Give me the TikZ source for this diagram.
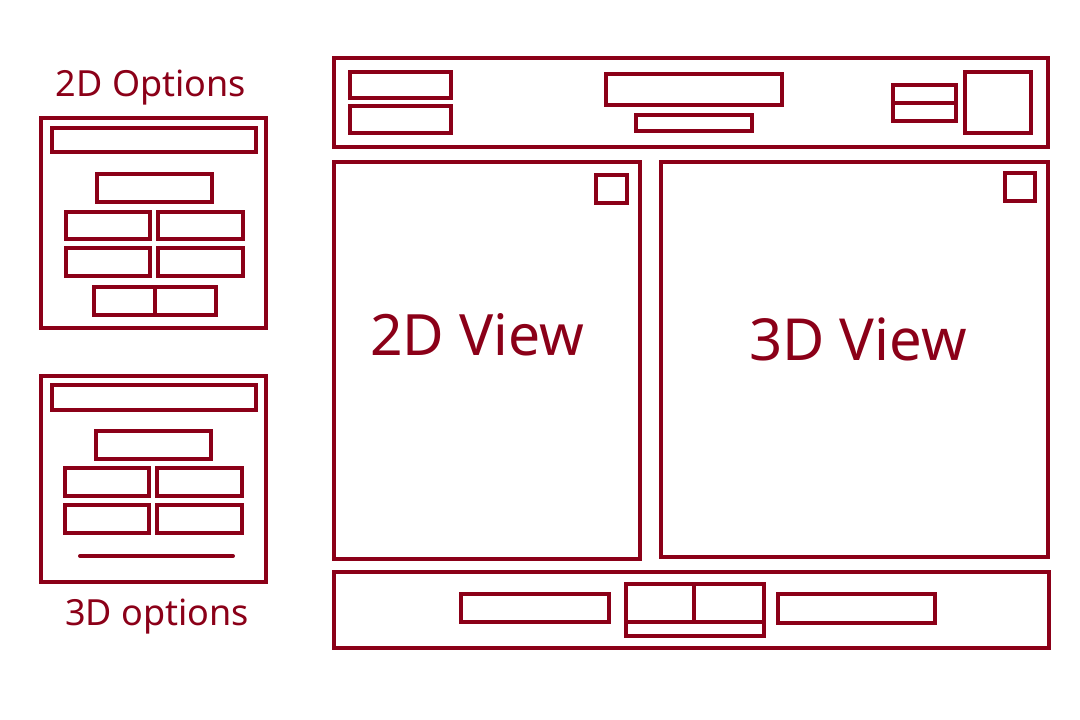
\documentclass[tikz,border=0pt]{standalone}
\usepackage{fontspec}
\setmainfont{Noto Sans}
\definecolor{wine}{RGB}{139,0,24}
\tikzset{
  frame/.style={draw=wine, line width=4pt},
  rule/.style={draw=wine, line width=4pt, line cap=round},
  caption/.style={text=wine, inner sep=0pt, anchor=base},
}
\begin{document}
\begin{tikzpicture}[x=1pt, y=-1pt]
\useasboundingbox (0,0) rectangle (1080,720);

% ---- 2D options panel ----
\node[caption, font=\fontsize{36}{40}\selectfont] (opt2title) at (151,96) {2D Options};
\draw[frame] (41,118) rectangle (266,328);
\draw[frame] (52,128) rectangle (256,152);
\draw[frame] (97,174) rectangle (212,202);
\draw[frame] (66,212) rectangle (150,239);
\draw[frame] (158,212) rectangle (243,239);
\draw[frame] (66,248) rectangle (150,276);
\draw[frame] (158,248) rectangle (243,276);
\draw[frame] (94,287) rectangle (216,315);
\draw[frame] (155,287) -- (155,315);

% ---- 3D options panel ----
\draw[frame] (41,376) rectangle (266,582);
\draw[frame] (52,385) rectangle (256,410);
\draw[frame] (96,431) rectangle (211,459);
\draw[frame] (65,468) rectangle (149,496);
\draw[frame] (157,468) rectangle (242,496);
\draw[frame] (65,505) rectangle (149,533);
\draw[frame] (157,505) rectangle (242,533);
\draw[rule] (80,556) -- (233,556);
\node[caption, font=\fontsize{36}{40}\selectfont] (opt3title) at (157,625) {3D options};

% ---- top toolbar ----
\draw[frame] (334,58) rectangle (1048,147);
\draw[frame] (350,72) rectangle (451,98);
\draw[frame] (350,106) rectangle (451,133);
\draw[frame] (606,74) rectangle (782,105);
\draw[frame] (636,115) rectangle (752,131);
\draw[frame] (893,85) rectangle (956,121);
\draw[frame] (893,103) -- (956,103);
\draw[frame] (965,72) rectangle (1031,133);

% ---- views ----
\draw[frame] (334,162) rectangle (640,559);
\draw[frame] (596,175) rectangle (627,203);
\node[caption, font=\fontsize{57}{64}\selectfont] (view2) at (477,355) {2D View};

\draw[frame] (661,162) rectangle (1048,557);
\draw[frame] (1005,173) rectangle (1035,201);
\node[caption, font=\fontsize{58}{64}\selectfont] (view3) at (858,360) {3D View};

% ---- bottom bar ----
\draw[frame] (334,572) rectangle (1049,648);
\draw[frame] (461,594) rectangle (609,622);
\draw[frame] (626,584) rectangle (764,636);
\draw[frame] (626,622) -- (764,622);
\draw[frame] (694,584) -- (694,622);
\draw[frame] (778,594) rectangle (935,623);
\end{tikzpicture}
\end{document}
